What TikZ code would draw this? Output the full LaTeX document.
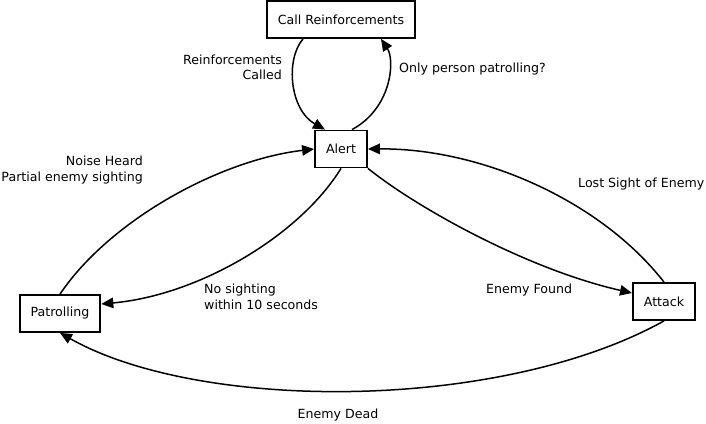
\documentclass[tikz,border=0pt]{standalone}
\usepackage{fontspec}
\setmainfont{DejaVu Sans}
\usetikzlibrary{arrows.meta,calc}
\begin{document}
\begin{tikzpicture}[x=1pt,y=-1pt,
  every node/.style={font=\fontsize{12.6}{15.5}\selectfont},
  state/.style={draw,line width=1.8pt,inner xsep=11pt,inner ysep=0pt,minimum height=37pt},
  lbl/.style={inner sep=0pt},
  conn/.style={line width=1.5pt,-{Triangle[length=12pt,width=10.5pt]}}]
\useasboundingbox (0,0) rectangle (706,423);
\node[state] (cr) at (341,19.5) {Call Reinforcements};
\node[state] (alert) at (341,149) {Alert};
\node[state] (pat) at (60,313.5) {Patrolling};
\node[state] (att) at (664,301.5) {Attack};

\draw[conn] ($(cr.south)+(-38,0)$) .. controls (285,60) and (290,110) .. ($(alert.north)+(-16,0)$);
\draw[conn] ($(alert.north)+(11,0)$) .. controls (392,108) and (395,60) .. ($(cr.south)+(40,0)$);
\draw[conn] (pat.north) .. controls (110,220) and (220,160) .. (alert.west);
\draw[conn] (alert.south) .. controls (300,235) and (200,295) .. ($(pat.east)+(0,-9.5)$);
\draw[conn] (alert.south east) .. controls (420,210) and (530,270) .. ($(att.west)+(0,-8.5)$);
\draw[conn] (att.north) .. controls (600,200) and (480,148) .. (alert.east);
\draw[conn] (att.south) .. controls (500,412) and (200,412) .. (pat.south);

\node[lbl,anchor=east,align=right] (l1) at (282,67.5) {Reinforcements\\Called};
\node[lbl,anchor=west] (l2) at (399,69) {Only person patrolling?};
\node[lbl,anchor=east,align=right] (l3) at (143,170) {Noise Heard\\Partial enemy sighting};
\node[lbl,anchor=west,align=left] (l4) at (204,297) {No sighting\\within 10 seconds};
\node[lbl,anchor=west] (l5) at (486,290) {Enemy Found};
\node[lbl,anchor=west] (l6) at (578,184) {Lost Sight of Enemy};
\node[lbl] (l7) at (338,415) {Enemy Dead};
\end{tikzpicture}
\end{document}
